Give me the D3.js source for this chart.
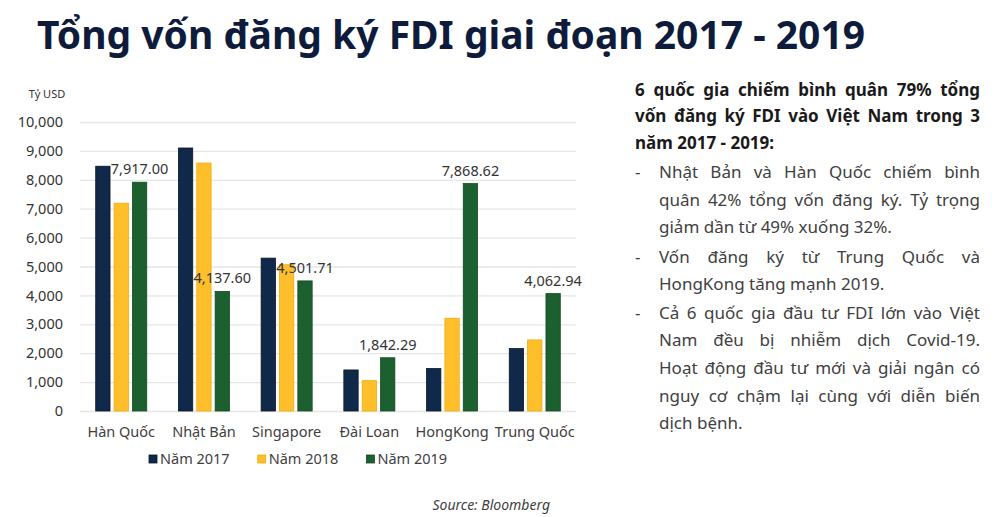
<!DOCTYPE html>
<html>
<head>
<meta charset="utf-8">
<script src="https://cdn.jsdelivr.net/npm/d3@7"></script>
<style>
  body { margin: 0; background: #fff; }
  svg { display: block; font-family: "Noto Sans", "Open Sans", sans-serif; }
</style>
</head>
<body>
<div id="chart"></div>
<script>
/**
 * DATA
 * */
const countries = ["Hàn Quốc", "Nhật Bản", "Singapore", "Đài Loan", "HongKong", "Trung Quốc"];
const years = ["Năm 2017", "Năm 2018", "Năm 2019"];
const values2017 = [8470, 9100, 5290, 1420, 1470, 2160];
const values2018 = [7190, 8580, 5060, 1050, 3210, 2460];
const values2019 = [7917.00, 4137.60, 4501.71, 1842.29, 7868.62, 4062.94];
const yTicks = [0, 1000, 2000, 3000, 4000, 5000, 6000, 7000, 8000, 9000, 10000];

const titleText = "Tổng vốn đăng ký FDI giai đoạn 2017 - 2019";
const unitText = "Tỷ USD";
const sourceText = "Source: Bloomberg";
const introLines = [
  "6 quốc gia chiếm bình quân 79% tổng",
  "vốn đăng ký FDI vào Việt Nam trong 3",
  "năm 2017 - 2019:"
];
const bullets = [
  ["Nhật Bản và Hàn Quốc chiếm bình", "quân 42% tổng vốn đăng ký. Tỷ trọng", "giảm dần từ 49% xuống 32%."],
  ["Vốn đăng ký từ Trung Quốc và", "HongKong tăng mạnh 2019."],
  ["Cả 6 quốc gia đầu tư FDI lớn vào Việt", "Nam đều bị nhiễm dịch Covid-19.", "Hoạt động đầu tư mới và giải ngân có", "nguy cơ chậm lại cùng với diễn biến", "dịch bệnh."]
];

/**
 * CONSTANTS
 * */
const width = 1000,
  height = 517,
  margin = { top: 122, bottom: 106, left: 80, right: 424 };
const colors = ["#10294a", "#ffbf2b", "#1d6030"];
const strokes = ["#0a1626", "#f0aa10", "#134a22"];

const rows = countries.map((c, i) => ({
  country: c,
  values: [values2017[i], values2018[i], values2019[i]]
}));

const svg = d3.select("#chart")
  .append("svg")
  .attr("width", width)
  .attr("height", height);

// TITLE
const title = svg.append("text")
  .attr("x", 37)
  .attr("y", 49)
  .attr("font-size", 39)
  .attr("font-weight", 700)
  .attr("fill", "#0e1b3b")
  .text(titleText);
if (title.node().getComputedTextLength() > 828) {
  title.attr("textLength", 828).attr("lengthAdjust", "spacingAndGlyphs");
}

// SCALES
const xScale = d3.scaleBand()
  .domain(countries)
  .range([margin.left, width - margin.right])
  .paddingInner(0.383)
  .paddingOuter(0.19);

const xInner = d3.scaleBand()
  .domain(d3.range(years.length))
  .range([0, xScale.bandwidth()])
  .paddingInner(0.22);

const yScale = d3.scaleLinear()
  .domain([0, 10000])
  .range([height - margin.bottom, margin.top]);

// GRID + Y AXIS
const yAxis = d3.axisLeft(yScale)
  .tickValues(yTicks)
  .tickSize(-(width - margin.right - margin.left))
  .tickPadding(17)
  .tickFormat(d3.format(","));

svg.append("g")
  .attr("class", "y-axis")
  .attr("transform", `translate(${margin.left},0)`)
  .call(yAxis)
  .call(g => g.select(".domain").remove())
  .call(g => g.selectAll(".tick line").attr("stroke", "#e6e6e6").attr("stroke-width", 1.3))
  .call(g => g.selectAll(".tick text")
    .attr("font-size", 14.5)
    .attr("fill", "#333")
    .attr("font-family", "Noto Sans, sans-serif"));

svg.append("text")
  .attr("x", 47)
  .attr("y", 98)
  .attr("text-anchor", "middle")
  .attr("font-size", 11)
  .attr("fill", "#333")
  .text(unitText);

// X AXIS LABELS
const xAxis = d3.axisBottom(xScale).tickSize(0).tickPadding(16);
svg.append("g")
  .attr("class", "x-axis")
  .attr("transform", `translate(0,${height - margin.bottom})`)
  .call(xAxis)
  .call(g => g.select(".domain").remove())
  .call(g => g.selectAll(".tick text")
    .attr("font-size", 14.5)
    .attr("fill", "#404040")
    .attr("font-family", "Noto Sans, sans-serif"));

// BARS
const groups = svg.selectAll(".group")
  .data(rows)
  .join("g")
  .attr("class", "group")
  .attr("transform", d => `translate(${xScale(d.country)},0)`);

groups.selectAll("rect")
  .data(d => d.values.map((v, i) => ({ v, i })))
  .join("rect")
  .attr("x", d => xInner(d.i))
  .attr("width", xInner.bandwidth())
  .attr("y", d => yScale(d.v))
  .attr("height", d => yScale(0) - yScale(d.v))
  .attr("fill", d => colors[d.i])
  .attr("stroke", d => strokes[d.i])
  .attr("stroke-width", 0.8);

// data labels for 2019 only
groups.append("text")
  .attr("x", xInner(2) + xInner.bandwidth() / 2)
  .attr("y", d => yScale(d.values[2]) - 8)
  .attr("text-anchor", "middle")
  .attr("font-size", 14.5)
  .attr("fill", "#333")
  .text(d => d3.format(",.2f")(d.values[2]));

// LEGEND
const legend = svg.append("g")
  .attr("transform", `translate(149,459)`);
const legendItem = legend.selectAll("g")
  .data(years)
  .join("g")
  .attr("transform", (d, i) => `translate(${i * 108.7},0)`);
legendItem.append("rect")
  .attr("x", 0)
  .attr("y", -4)
  .attr("width", 8)
  .attr("height", 8)
  .attr("fill", (d, i) => colors[i])
  .attr("stroke", (d, i) => strokes[i])
  .attr("stroke-width", 0.8);
legendItem.append("text")
  .attr("x", 11)
  .attr("y", 5)
  .attr("font-size", 14.5)
  .attr("fill", "#404040")
  .text(d => d);

// SOURCE
svg.append("text")
  .attr("x", 550)
  .attr("y", 510)
  .attr("text-anchor", "end")
  .attr("font-size", 14)
  .attr("font-style", "italic")
  .attr("fill", "#404040")
  .text(sourceText);

// RIGHT PANEL TEXT (justified lines)
const panelRight = 980;
function addLine(str, x, y, justify, opts) {
  const t = svg.append("text")
    .attr("x", x)
    .attr("y", y)
    .attr("font-size", opts.size)
    .attr("font-weight", opts.weight)
    .attr("fill", opts.fill)
    .text(str);
  if (justify) {
    const natural = t.node().getComputedTextLength();
    const gaps = str.split(" ").length - 1;
    const extra = (panelRight - x) - natural;
    if (gaps > 0) t.attr("word-spacing", extra / gaps);
  }
  return t;
}

const introY = [96, 122, 148.5];
introLines.forEach((line, i) => {
  addLine(line, 635, introY[i], i < introLines.length - 1,
    { size: 17, weight: 700, fill: "#1a1a1a" });
});

const bulletY = [[178, 206, 233], [263, 290], [318.5, 346, 373.5, 401.5, 428.5]];
const bulletOpts = { size: 17, weight: 400, fill: "#404040" };
bullets.forEach((lines, b) => {
  svg.append("text")
    .attr("x", 635)
    .attr("y", bulletY[b][0])
    .attr("font-size", 17)
    .attr("fill", "#404040")
    .text("-");
  lines.forEach((line, i) => {
    addLine(line, 659, bulletY[b][i], i < lines.length - 1, bulletOpts);
  });
});
</script>
</body>
</html>
